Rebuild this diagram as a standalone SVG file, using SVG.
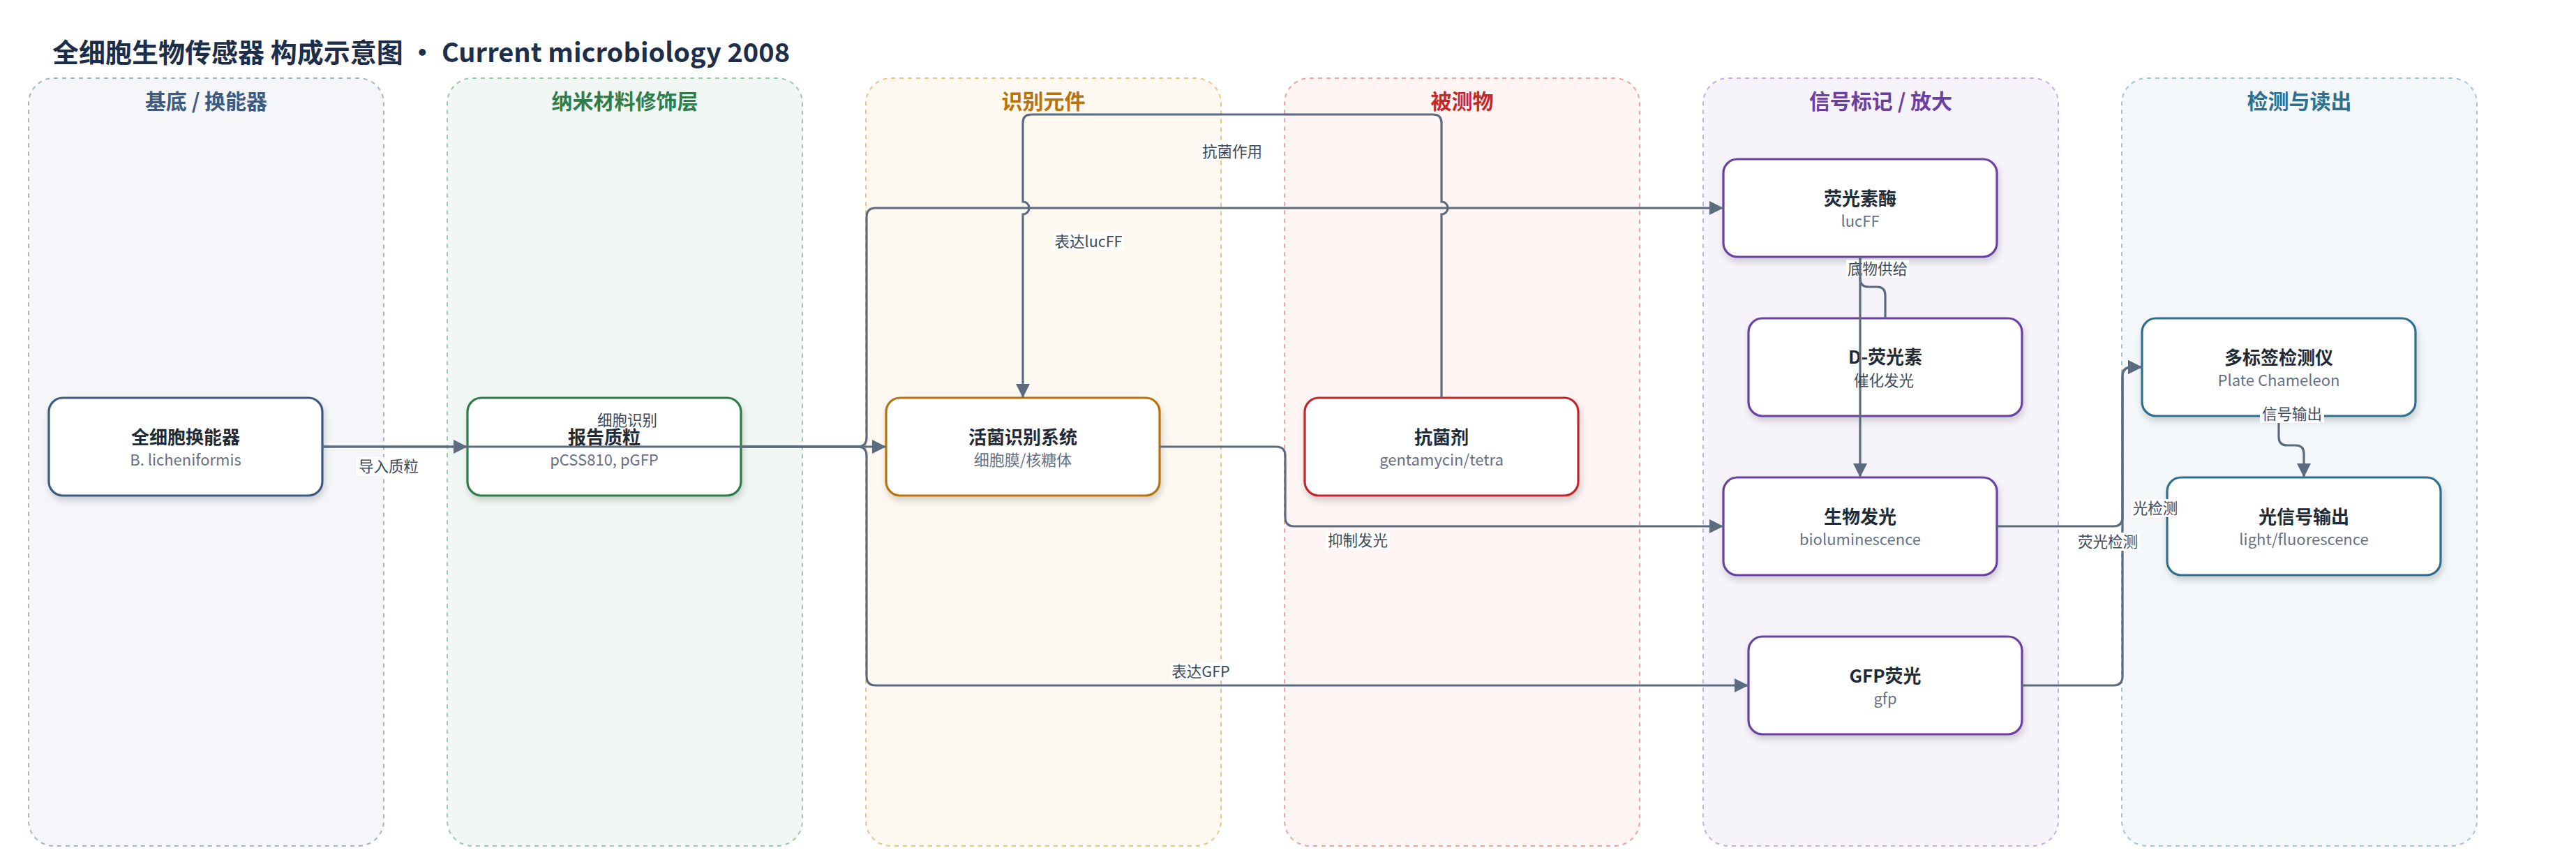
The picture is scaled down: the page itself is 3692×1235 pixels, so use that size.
<svg xmlns="http://www.w3.org/2000/svg" width="3692" height="1235" viewBox="0 0 3692 1235">
<style>
text{font-family:"Noto Sans CJK SC","Noto Sans",sans-serif}
.title{font-size:38px;font-weight:700;fill:#1c2e4a}
.lane{stroke-width:2;stroke-dasharray:6 6}
.lt{font-size:30px;font-weight:700;text-anchor:middle}
.node{fill:#fff;stroke-width:3.2;filter:url(#sh)}
.nt{font-size:26px;font-weight:700;fill:#1f2a37;text-anchor:middle}
.ns{font-size:22px;fill:#667085;text-anchor:middle}
.e{fill:none;stroke:#5b6b80;stroke-width:3.2}
.ea{marker-end:url(#arr)}
.lb{fill:#fff}
.el{font-size:21.5px;fill:#3d4a5c;text-anchor:middle}
</style>
<defs>
<filter id="sh" x="-10%" y="-10%" width="120%" height="140%">
<feDropShadow dx="2" dy="6" stdDeviation="5" flood-color="#000" flood-opacity="0.16"/>
</filter>
<marker id="arr" markerUnits="userSpaceOnUse" markerWidth="20" markerHeight="20" viewBox="0 0 20 20" refX="20" refY="10" orient="auto">
<path d="M0,0 L20,10 L0,20 z" fill="#5b6b80"/>
</marker>
</defs>
<rect width="3692" height="1235" fill="#fff"/>
<text class="title" x="75" y="89">全细胞生物传感器 构成示意图 • Current microbiology 2008</text>

<g id="lanes">
<g id="lane-substrate">
<rect class="lane" x="41" y="112" width="509" height="1100" rx="36" fill="#f4f6fa" stroke="#a5b4c8"/>
<text class="lt" x="295.5" y="156" fill="#3f5a80">基底 / 换能器</text>
</g>
<g id="lane-nano">
<rect class="lane" x="641" y="112" width="509" height="1100" rx="36" fill="#f1f8f4" stroke="#9cc9aa"/>
<text class="lt" x="895.5" y="156" fill="#2e7d4a">纳米材料修饰层</text>
</g>
<g id="lane-recog">
<rect class="lane" x="1241" y="112" width="509" height="1100" rx="36" fill="#fdf9f0" stroke="#e9c48a"/>
<text class="lt" x="1495.5" y="156" fill="#b8730a">识别元件</text>
</g>
<g id="lane-analyte">
<rect class="lane" x="1841" y="112" width="509" height="1100" rx="36" fill="#fdf4f3" stroke="#eba3a3"/>
<text class="lt" x="2095.5" y="156" fill="#c62828">被测物</text>
</g>
<g id="lane-signal">
<rect class="lane" x="2441" y="112" width="509" height="1100" rx="36" fill="#f6f3fb" stroke="#c5aee3"/>
<text class="lt" x="2695.5" y="156" fill="#6b3fa0">信号标记 / 放大</text>
</g>
<g id="lane-detect">
<rect class="lane" x="3041" y="112" width="509" height="1100" rx="36" fill="#f3f7f9" stroke="#a3c6d3"/>
<text class="lt" x="3295.5" y="156" fill="#2f6f8c">检测与读出</text>
</g>
</g>

<g id="nodes">
<g id="n-transducer">
<rect class="node" x="70" y="570" width="392" height="140" rx="20" stroke="#3d5a80"/>
<text class="nt" x="266" y="636">全细胞换能器</text>
<text class="ns" x="266" y="667">B. licheniformis</text>
</g>
<g id="n-plasmid">
<rect class="node" x="670" y="570" width="392" height="140" rx="20" stroke="#2e7d4a"/>
<text class="nt" x="866" y="636">报告质粒</text>
<text class="ns" x="866" y="667">pCSS810, pGFP</text>
</g>
<g id="n-live">
<rect class="node" x="1270" y="570" width="392" height="140" rx="20" stroke="#b7720a"/>
<text class="nt" x="1466" y="636">活菌识别系统</text>
<text class="ns" x="1466" y="667">细胞膜/核糖体</text>
</g>
<g id="n-antibiotic">
<rect class="node" x="1870" y="570" width="392" height="140" rx="20" stroke="#c0282a"/>
<text class="nt" x="2066" y="636">抗菌剂</text>
<text class="ns" x="2066" y="667">gentamycin/tetra</text>
</g>
<g id="n-luciferase">
<rect class="node" x="2470" y="228" width="392" height="140" rx="20" stroke="#6b3fa0"/>
<text class="nt" x="2666" y="294">荧光素酶</text>
<text class="ns" x="2666" y="325">lucFF</text>
</g>
<g id="n-luciferin">
<rect class="node" x="2506" y="456" width="392" height="140" rx="20" stroke="#6b3fa0"/>
<text class="nt" x="2702" y="521">D-荧光素</text>
</g>
<g id="n-biolum">
<rect class="node" x="2470" y="684" width="392" height="140" rx="20" stroke="#6b3fa0"/>
<text class="nt" x="2666" y="750">生物发光</text>
<text class="ns" x="2666" y="781">bioluminescence</text>
</g>
<g id="n-gfp">
<rect class="node" x="2506" y="912" width="392" height="140" rx="20" stroke="#6b3fa0"/>
<text class="nt" x="2702" y="978">GFP荧光</text>
<text class="ns" x="2702" y="1009">gfp</text>
</g>
<g id="n-reader">
<rect class="node" x="3070" y="456" width="392" height="140" rx="20" stroke="#2f6f8c"/>
<text class="nt" x="3266" y="522">多标签检测仪</text>
<text class="ns" x="3266" y="553">Plate Chameleon</text>
</g>
<g id="n-output">
<rect class="node" x="3106" y="684" width="392" height="140" rx="20" stroke="#2f6f8c"/>
<text class="nt" x="3302" y="750">光信号输出</text>
<text class="ns" x="3302" y="781">light/fluorescence</text>
</g>
</g>

<g id="connectors">
<path class="e ea" d="M462,640 H670"/>
<path class="e ea" d="M462,640 H1270"/>
<path class="e ea" d="M1062,640 H1229 Q1242,640 1242,627 V311 Q1242,298 1255,298 H2470"/>
<path class="e ea" d="M1062,640 H1229 Q1242,640 1242,653 V969 Q1242,982 1255,982 H2506"/>
<path class="e ea" d="M2066,570 V307 A9,9 0 0 0 2066,289 V176 Q2066,164 2054,164 H1478 Q1466,164 1466,176 V289 A9,9 0 0 1 1466,307 V570"/>
<path class="e ea" d="M1662,640 H1829 Q1842,640 1842,653 V741 Q1842,754 1855,754 H2470"/>
<path class="e ea" d="M2702,456 V423 Q2702,411 2690,411 H2678 Q2666,411 2666,399 V368"/>
<path class="e ea" d="M2862,754 H3029 Q3042,754 3042,741 V539 Q3042,526 3055,526 H3070"/>
<path class="e ea" d="M2898,982 H3029 Q3042,982 3042,969 V539 Q3042,526 3055,526 H3070"/>
<path class="e ea" d="M3266,596 V626 Q3266,638 3278,638 H3290 Q3302,638 3302,650 V684"/>

<rect class="lb" x="511" y="655" width="92" height="26"/>
<text class="el" x="557" y="676">导入质粒</text>
<text class="el" x="899" y="610">细胞识别</text>
<rect class="lb" x="1510" y="333" width="100" height="26"/>
<text class="el" x="1560" y="354">表达lucFF</text>
<rect class="lb" x="1720" y="204" width="92" height="26"/>
<text class="el" x="1766" y="225">抗菌作用</text>
<rect class="lb" x="1678" y="949" width="86" height="26"/>
<text class="el" x="1721" y="970">表达GFP</text>
<rect class="lb" x="1900" y="761" width="92" height="26"/>
<text class="el" x="1946" y="782">抑制发光</text>
<rect class="lb" x="2646" y="372" width="90" height="26"/>
<text class="el" x="2691" y="393">底物供给</text>
<rect class="lb" x="3055" y="715" width="68" height="26"/>
<text class="el" x="3089" y="736">光检测</text>
<rect class="lb" x="2975" y="763" width="92" height="26"/>
<text class="el" x="3021" y="784">荧光检测</text>
<rect class="lb" x="3239" y="580" width="92" height="26"/>
<text class="el" x="3285" y="601">信号输出</text>

<path class="e ea" d="M2666,368 V684"/>
<text class="el" x="2700" y="553">催化发光</text>
</g>
</svg>
